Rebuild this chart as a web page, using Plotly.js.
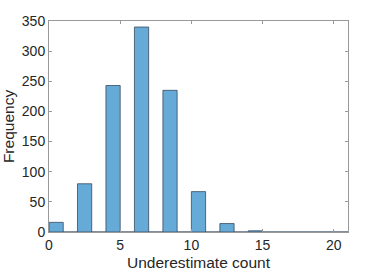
<!DOCTYPE html>
<html><head><meta charset="utf-8">
<script src="https://cdn.plot.ly/plotly-3.0.1.min.js"></script>
<style>html,body{margin:0;padding:0;background:#fff}#c{width:384px;height:273px}</style>
</head><body><div id="c"></div>
<script>
// bin left edges (width 1)
const binStarts = [0,1,2,3,4,5,6,7,8,9,10,11,12,13,14,15,16,17,18,19,20];
const counts    = [16,0,80,0,243,0,340,0,235,0,67,0,14,0,2,0,0,0,0,0,0];
const xTicks = [0,5,10,15,20];
const yTicks = [0,50,100,150,200,250,300,350];

const centers = binStarts.map(b => b + 0.5);
const trace = {
  type: 'bar', x: centers, y: counts, width: 1,
  marker: {color: 'rgb(102,170,215)', line: {color: 'rgb(55,75,95)', width: 0.8}},
  hoverinfo: 'skip'
};
const fam = 'Liberation Sans, Arial, sans-serif';
const axFont = {family: fam, size: 14, color: '#262626'};
const titleFont = {family: fam, size: 15.5, color: '#262626'};
const layout = {
  width: 384, height: 273,
  margin: {l: 49, r: 36, t: 21, b: 41},
  paper_bgcolor: '#fff', plot_bgcolor: '#fff',
  showlegend: false, bargap: 0,
  xaxis: {range: [0, 21], tickvals: xTicks, ticktext: xTicks.map(String),
    ticks: 'inside', ticklen: 3, tickcolor: '#999', mirror: 'ticks',
    showline: true, linecolor: '#999', linewidth: 1, showgrid: false, zeroline: false,
    tickfont: axFont,
    title: {text: 'Underestimate count', font: titleFont, standoff: 5}},
  yaxis: {range: [0, 350], tickvals: yTicks, ticktext: yTicks.map(String),
    ticks: 'inside', ticklen: 3, tickcolor: '#999', mirror: 'ticks',
    showline: true, linecolor: '#999', linewidth: 1, showgrid: false,
    zeroline: true, zerolinecolor: 'rgb(110,115,120)', zerolinewidth: 1,
    tickfont: axFont,
    title: {text: 'Frequency', font: titleFont, standoff: 4}}
};
Plotly.newPlot('c', [trace], layout, {staticPlot: true, displayModeBar: false});
</script></body></html>
